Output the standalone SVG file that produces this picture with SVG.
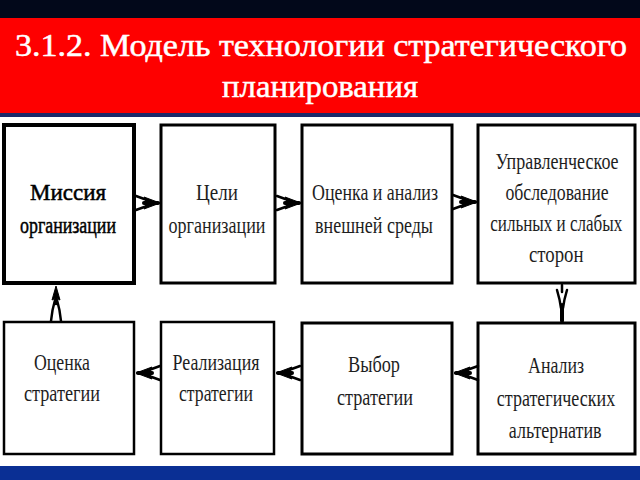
<svg xmlns="http://www.w3.org/2000/svg" xmlns:xlink="http://www.w3.org/1999/xlink" width="640" height="480" viewBox="0 0 640 480">
<style>
.box{fill:#fff;stroke:#000;stroke-width:3}
.t{font-family:"Liberation Serif","DejaVu Serif",serif;font-size:24px;fill:#1e1e1e;text-anchor:middle}
.tb{font-family:"Liberation Serif","DejaVu Serif",serif;font-size:24px;fill:#000;text-anchor:middle;stroke:#000;stroke-width:0.5}
.title{font-family:"Liberation Serif","DejaVu Serif",serif;font-size:32px;fill:#fff;stroke:#fff;stroke-width:0.5}
.ln{fill:none;stroke:#000;stroke-width:2.5;stroke-linecap:round}
.hd{fill:#000;stroke:#000;stroke-width:1;stroke-linejoin:round}
</style>
<defs>
<g id="arrowR">
<path class="ln" d="M-24,-7 L-13,-3 M-24,7 L-13,3"/>
<path class="hd" d="M0,0 L-16,-6 L-13,0 L-16,6 Z"/>
<path class="ln" d="M-16,0 L-2,0" style="stroke-width:4"/>
</g>
</defs>
<rect x="0" y="0" width="640" height="480" fill="#fff"/>
<rect x="0" y="0" width="640" height="18" fill="#02081a"/>
<rect x="0" y="18" width="640" height="95" fill="#fe0000"/>
<rect x="0" y="113" width="640" height="4" fill="#1c2a6a"/>
<rect x="0" y="466" width="640" height="14" fill="#0a2f94"/>
<text class="title" x="15" y="56" textLength="612" lengthAdjust="spacingAndGlyphs">3.1.2.  Модель технологии  стратегического</text>
<text class="title" x="222" y="97" textLength="196" lengthAdjust="spacingAndGlyphs">планирования</text>

<g id="n1"><rect class="box" x="4" y="125" width="130" height="158" style="stroke-width:4"/>
<text class="tb" x="68" y="200" textLength="76" lengthAdjust="spacingAndGlyphs">Миссия</text>
<text class="tb" x="68" y="233" textLength="96" lengthAdjust="spacingAndGlyphs">организации</text></g>
<g id="n2"><rect class="box" x="161" y="125" width="114" height="158"/>
<text class="t" x="217" y="200" textLength="42" lengthAdjust="spacingAndGlyphs">Цели</text>
<text class="t" x="217" y="233" textLength="97" lengthAdjust="spacingAndGlyphs">организации</text></g>
<g id="n3"><rect class="box" x="302" y="125" width="150" height="158"/>
<text class="t" x="375" y="200" textLength="126" lengthAdjust="spacingAndGlyphs">Оценка и анализ</text>
<text class="t" x="374" y="233" textLength="118" lengthAdjust="spacingAndGlyphs">внешней среды</text></g>
<g id="n4"><rect class="box" x="478" y="125" width="157" height="158"/>
<g transform="translate(557,0) scale(0.8,1)">
<text class="t" x="0" y="169" textLength="154" lengthAdjust="spacingAndGlyphs">Управленческое</text>
<text class="t" x="0" y="200" textLength="129" lengthAdjust="spacingAndGlyphs">обследование</text>
<text class="t" x="-1" y="231" textLength="165" lengthAdjust="spacingAndGlyphs">сильных и слабых</text>
<text class="t" x="-1" y="262" textLength="68" lengthAdjust="spacingAndGlyphs">сторон</text>
</g></g>

<g id="n5"><rect class="box" x="4" y="322" width="130" height="132" style="stroke-width:2.5"/>
<text class="t" x="62" y="370" textLength="56" lengthAdjust="spacingAndGlyphs">Оценка</text>
<text class="t" x="62" y="401" textLength="76" lengthAdjust="spacingAndGlyphs">стратегии</text></g>
<g id="n6"><rect class="box" x="161" y="322" width="113" height="132" style="stroke-width:2.5"/>
<text class="t" x="216" y="370" textLength="87" lengthAdjust="spacingAndGlyphs">Реализация</text>
<text class="t" x="216" y="401" textLength="74" lengthAdjust="spacingAndGlyphs">стратегии</text></g>
<g id="n7"><rect class="box" x="302" y="323" width="150" height="131"/>
<text class="t" x="374" y="372" textLength="52" lengthAdjust="spacingAndGlyphs">Выбор</text>
<text class="t" x="375" y="405" textLength="76" lengthAdjust="spacingAndGlyphs">стратегии</text></g>
<g id="n8"><rect class="box" x="478" y="323" width="157" height="131"/>
<g transform="translate(556,0) scale(0.8,1)">
<text class="t" x="0" y="373" textLength="70" lengthAdjust="spacingAndGlyphs">Анализ</text>
<text class="t" x="0" y="406" textLength="148" lengthAdjust="spacingAndGlyphs">стратегических</text>
<text class="t" x="-1" y="438" textLength="116" lengthAdjust="spacingAndGlyphs">альтернатив</text>
</g></g>

<g id="connectors">
<use xlink:href="#arrowR" href="#arrowR" transform="translate(160,203)"/>
<use xlink:href="#arrowR" href="#arrowR" transform="translate(301,203)"/>
<use xlink:href="#arrowR" href="#arrowR" transform="translate(477,202)"/>
<use xlink:href="#arrowR" href="#arrowR" transform="translate(136,373) rotate(180)"/>
<use xlink:href="#arrowR" href="#arrowR" transform="translate(276,373) rotate(180)"/>
<use xlink:href="#arrowR" href="#arrowR" transform="translate(454,373) rotate(180)"/>
<path class="hd" d="M56,286 L52,300 L56,298 L60,300 Z"/>
<path class="ln" d="M56,292 L56,304 M55,300 Q52,310 51,321 M57,300 Q60,310 61,321"/>
<path class="ln" d="M562,285 L562,292 M557,290 Q560,300 561,308 M567,290 Q564,300 563,308"/>
<path class="ln" d="M562,305 L562,321" style="stroke-width:4"/>
</g>
</svg>
